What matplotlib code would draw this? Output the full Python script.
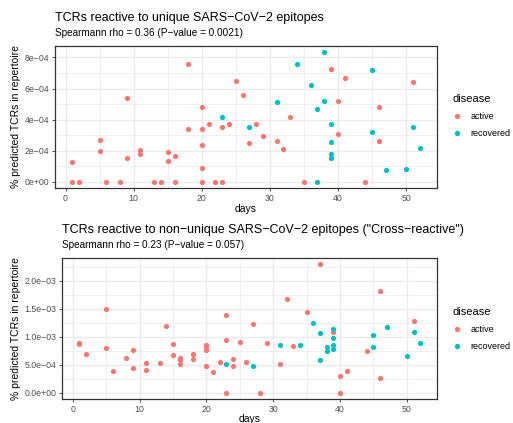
import matplotlib
matplotlib.use("Agg")
import matplotlib.pyplot as plt
from matplotlib.ticker import FixedLocator, FixedFormatter
from matplotlib.lines import Line2D
import numpy as np

plt.rcParams['font.family'] = ['Liberation Sans', 'DejaVu Sans']

# ---------------- data (top: unique epitopes) ----------------
top_active_days = [1, 1, 2, 5, 5, 6, 8, 9, 9, 11, 11, 13, 14, 15, 15, 16, 16, 18, 18,
                   20, 20, 20, 20, 20, 21, 22, 23, 23, 24, 25, 26, 27, 28, 29, 31, 32,
                   33, 35, 39, 40, 40, 41, 44, 46, 46, 51]
top_active_vals = [1.27e-4, 0, 0, 2.66e-4, 1.99e-4, 0, 0, 5.40e-4, 1.54e-4, 2.02e-4,
                   1.80e-4, 0, 0, 1.93e-4, 1.35e-4, 1.68e-4, 0, 7.61e-4, 3.39e-4,
                   4.80e-4, 3.43e-4, 2.40e-4, 0.86e-4, 0, 3.75e-4, 0, 3.50e-4, 0,
                   3.75e-4, 6.48e-4, 5.57e-4, 2.47e-4, 3.75e-4, 2.96e-4, 2.62e-4,
                   2.10e-4, 4.16e-4, 0, 7.23e-4, 5.17e-4, 3.05e-4, 6.71e-4, 0,
                   4.82e-4, 2.62e-4, 6.39e-4]
top_recov_days = [23, 27, 31, 34, 36, 37, 37, 38, 38, 39, 39, 39, 39, 45, 45, 47, 50, 51, 52]
top_recov_vals = [4.18e-4, 3.54e-4, 5.14e-4, 7.55e-4, 6.22e-4, 4.67e-4, 0, 8.34e-4,
                  5.23e-4, 3.75e-4, 2.53e-4, 1.76e-4, 1.54e-4, 7.18e-4, 3.20e-4,
                  0.73e-4, 0.82e-4, 3.50e-4, 2.17e-4]

# ---------------- data (bottom: non-unique epitopes) ----------------
bot_active_days = [1, 1, 2, 5, 5, 6, 8, 9, 9, 11, 11, 13, 14, 15, 15, 16, 16, 16, 18, 18,
                   20, 20, 20, 20, 21, 22, 23, 23, 23, 24, 24, 25, 26, 27, 28, 29, 31,
                   32, 33, 35, 37, 39, 40, 40, 41, 44, 46, 46, 51]
bot_active_vals = [8.9e-4, 8.7e-4, 6.85e-4, 14.87e-4, 8.0e-4, 3.9e-4, 6.3e-4, 7.67e-4,
                   4.48e-4, 5.37e-4, 4.07e-4, 5.37e-4, 12.0e-4, 8.73e-4, 6.78e-4,
                   6.14e-4, 5.84e-4, 5.13e-4, 6.85e-4, 6.07e-4, 8.5e-4, 8.3e-4, 7.6e-4,
                   4.84e-4, 3.77e-4, 5.55e-4, 13.93e-4, 9.44e-4, 0, 6.02e-4, 4.72e-4,
                   9.09e-4, 5.55e-4, 12.33e-4, 0, 8.9e-4, 5.19e-4, 16.76e-4, 8.37e-4,
                   14.51e-4, 22.96e-4, 10.92e-4, 3.07e-4, 0, 3.84e-4, 7.55e-4,
                   18.11e-4, 2.6e-4, 12.8e-4]
bot_recov_days = [23, 27, 31, 34, 36, 37, 37, 38, 38, 39, 39, 39, 39, 45, 45, 47, 50, 51, 52]
bot_recov_vals = [5.07e-4, 4.72e-4, 8.6e-4, 8.6e-4, 12.44e-4, 10.62e-4, 5.9e-4, 8.14e-4,
                  7.38e-4, 11.33e-4, 9.86e-4, 8.5e-4, 7.91e-4, 10.27e-4, 8.2e-4,
                  11.68e-4, 6.5e-4, 10.92e-4, 8.97e-4]

x_ticks = [0, 10, 20, 30, 40, 50]
x_tick_labels = ["0", "10", "20", "30", "40", "50"]
top_y_ticks = [0, 2e-4, 4e-4, 6e-4, 8e-4]
top_y_labels = ["0e+00", "2e\u221204", "4e\u221204", "6e\u221204", "8e\u221204"]
bot_y_ticks = [0, 5e-4, 1e-3, 1.5e-3, 2e-3]
bot_y_labels = ["0.0e+00", "5.0e\u221204", "1.0e\u221203", "1.5e\u221203", "2.0e\u221203"]

top_title = "TCRs reactive to unique SARS\u2212CoV\u22122 epitopes"
top_sub = "Spearmann rho = 0.36 (P\u2212value = 0.0021)"
bot_title = "TCRs reactive to non\u2212unique SARS\u2212CoV\u22122 epitopes (\"Cross\u2212reactive\")"
bot_sub = "Spearmann rho = 0.23 (P\u2212value = 0.057)"
groups = ["active", "recovered"]
colors = {"active": "#F8766D", "recovered": "#00BFC4"}

W, H = 513, 423
fig = plt.figure(figsize=(W / 100, H / 100), dpi=100)


def px_axes(l, t, r, b):
    return fig.add_axes([l / W, 1 - b / H, (r - l) / W, (b - t) / H])


def style(ax, ad, av, rd, rv, yt, yl, xlabelpad):
    alld = ad + rd
    allv = av + rv
    dx = (max(alld) - min(alld)) * 0.05
    dy = (max(allv) - min(allv)) * 0.05
    ax.set_xlim(min(alld) - dx, max(alld) + dx)
    ax.set_ylim(min(allv) - dy, max(allv) + dy)
    ax.set_axisbelow(True)
    xt = np.array(x_ticks, dtype=float)
    for m in (xt[:-1] + xt[1:]) / 2:
        ax.axvline(m, color="#EBEBEB", lw=0.5, zorder=0)
    ytt = np.array(yt, dtype=float)
    ym = list((ytt[:-1] + ytt[1:]) / 2) + [ytt[-1] + (ytt[1] - ytt[0]) / 2]
    for m in ym:
        if m < ax.get_ylim()[1]:
            ax.axhline(m, color="#EBEBEB", lw=0.5, zorder=0)
    for m in x_ticks:
        ax.axvline(m, color="#EBEBEB", lw=1.0, zorder=0)
    for m in yt:
        ax.axhline(m, color="#EBEBEB", lw=1.0, zorder=0)
    ax.scatter(ad, av, s=14, color=colors["active"], linewidths=0, zorder=3)
    ax.scatter(rd, rv, s=14, color=colors["recovered"], linewidths=0, zorder=3)
    ax.xaxis.set_major_locator(FixedLocator(x_ticks))
    ax.xaxis.set_major_formatter(FixedFormatter(x_tick_labels))
    ax.yaxis.set_major_locator(FixedLocator(yt))
    ax.yaxis.set_major_formatter(FixedFormatter(yl))
    ax.tick_params(axis="both", length=2.5, width=0.6, color="#333333",
                   labelcolor="#4D4D4D", labelsize=6.3, pad=1.5)
    for sp in ax.spines.values():
        sp.set_color("#333333")
        sp.set_linewidth(0.9)
    ax.set_xlabel("days", fontsize=7.5, labelpad=xlabelpad)
    ax.set_ylabel("% predicted TCRs in repertoire", fontsize=7.5, labelpad=3)


ax1 = px_axes(55, 45.7, 437, 188.3)
style(ax1, top_active_days, top_active_vals, top_recov_days, top_recov_vals,
      top_y_ticks, top_y_labels, 1.0)
ax2 = px_axes(62.3, 257.7, 437.3, 399.3)
style(ax2, bot_active_days, bot_active_vals, bot_recov_days, bot_recov_vals,
      bot_y_ticks, bot_y_labels, 0.0)

fig.text(55 / W, 1 - 17.5 / H, top_title, fontsize=9, va="center", ha="left")
fig.text(55 / W, 1 - 33.3 / H, top_sub, fontsize=7.2, va="center", ha="left")
fig.text(62.3 / W, 1 - 230 / H, bot_title, fontsize=9, va="center", ha="left")
fig.text(62.3 / W, 1 - 245 / H, bot_sub, fontsize=7.2, va="center", ha="left")

# legends
handles = [Line2D([], [], marker="o", ls="", color=colors[g], markersize=3.8,
                  markeredgewidth=0) for g in groups]
for ycen in (116, 329):
    fig.legend(handles, groups, title="disease", loc="center left",
               bbox_to_anchor=(446 / W, 1 - ycen / H), frameon=False,
               fontsize=6.5, title_fontsize=8, handletextpad=1.0,
               labelspacing=0.85, handlelength=1.0, alignment="left",
               borderpad=0.2)

fig.savefig("out.png", dpi=100)
